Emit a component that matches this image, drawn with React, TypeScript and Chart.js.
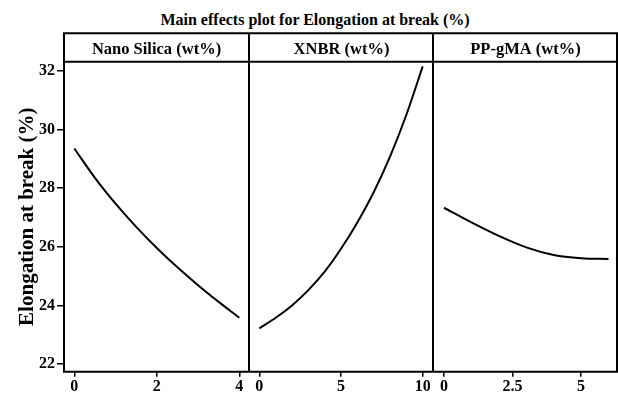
import React, { useEffect, useRef } from "react";
import { Chart, registerables } from "chart.js";

Chart.register(...registerables);

const mainTitle = "Main effects plot for Elongation at break (%)";
const yTitle = "Elongation at break (%)";
const yTicks = [22, 24, 26, 28, 30, 32];

const silicaLabel = "Nano Silica (wt%)";
const silicaX = [0, 0.5, 1, 1.5, 2, 2.5, 3, 3.5, 4];
const silicaY = [29.35, 28.35, 27.47, 26.68, 25.96, 25.3, 24.69, 24.12, 23.58];
const silicaTicks = [0, 2, 4];
const silicaTickLabels = ["0", "2", "4"];

const xnbrLabel = "XNBR (wt%)";
const xnbrX = [0, 1, 2, 3, 4, 5, 6, 7, 8, 9, 10];
const xnbrY = [23.22, 23.58, 24.0, 24.52, 25.15, 25.93, 26.83, 27.86, 29.07, 30.5, 32.15];
const xnbrTicks = [0, 5, 10];
const xnbrTickLabels = ["0", "5", "10"];

const pgmaLabel = "PP-gMA (wt%)";
const pgmaX = [0, 1, 2, 3, 4, 5, 6];
const pgmaY = [27.33, 26.83, 26.37, 25.98, 25.72, 25.61, 25.58];
const pgmaTicks = [0, 2.5, 5];
const pgmaTickLabels = ["0", "2.5", "5"];

const SERIF = "'Liberation Serif', 'Times New Roman', Times, serif";
const HEADER_TOP = 33.3;

type PanelProps = {
  left: number;
  width: number;
  padRight: number;
  drawLeft: boolean;
  showY: boolean;
  label: string;
  xs: number[];
  ys: number[];
  ticks: number[];
  tickLabels: string[];
  xMin: number;
  xMax: number;
};

function makeFrame(drawLeft: boolean) {
  return {
    id: "frame",
    afterDraw(chart: any) {
      const { ctx, chartArea: a } = chart;
      ctx.save();
      ctx.strokeStyle = "#000";
      ctx.lineWidth = 2;
      ctx.beginPath();
      const l = drawLeft ? a.left - 1 : a.left;
      ctx.moveTo(l, HEADER_TOP);
      ctx.lineTo(a.right + 1, HEADER_TOP);
      ctx.moveTo(l, a.top);
      ctx.lineTo(a.right + 1, a.top);
      ctx.moveTo(l, a.bottom);
      ctx.lineTo(a.right + 1, a.bottom);
      if (drawLeft) {
        ctx.moveTo(a.left, HEADER_TOP);
        ctx.lineTo(a.left, a.bottom);
      }
      ctx.moveTo(a.right, HEADER_TOP);
      ctx.lineTo(a.right, a.bottom);
      ctx.stroke();
      ctx.restore();
    },
  };
}

function Panel(p: PanelProps) {
  const ref = useRef<HTMLCanvasElement | null>(null);
  useEffect(() => {
    if (!ref.current) return;
    const tickFont = { family: SERIF, size: 16, weight: "bold" as const };
    const chart = new Chart(ref.current, {
      type: "line",
      data: {
        datasets: [
          {
            data: p.xs.map((x, i) => ({ x, y: p.ys[i] })),
            borderColor: "#000",
            borderWidth: 2,
            pointRadius: 0,
            cubicInterpolationMode: "monotone",
            fill: false,
          },
        ],
      },
      options: {
        animation: false,
        responsive: false,
        maintainAspectRatio: false,
        layout: { padding: { top: HEADER_TOP, left: 0, right: p.padRight, bottom: 0 } },
        plugins: {
          legend: { display: false },
          tooltip: { enabled: false },
          title: {
            display: true,
            text: p.label,
            fullSize: false,
            color: "#000",
            font: { family: SERIF, size: 16.5, weight: "bold", lineHeight: 1.2 },
            padding: { top: 6.5, bottom: 2.1 },
          },
        },
        scales: {
          x: {
            type: "linear",
            min: p.xMin,
            max: p.xMax,
            afterFit: (s: any) => {
              s.height = 22.3;
            },
            afterBuildTicks: (s: any) => {
              s.ticks = p.ticks.map((v) => ({ value: v }));
            },
            ticks: {
              color: "#000",
              font: tickFont,
              padding: 1,
              maxRotation: 0,
              autoSkip: false,
              callback: (_v: any, i: number) => p.tickLabels[i],
            },
            grid: {
              display: true,
              drawOnChartArea: false,
              drawTicks: true,
              tickLength: 5,
              color: "#000",
              lineWidth: 1.5,
            },
            border: { display: false },
          },
          y: {
            display: p.showY,
            min: 21.74,
            max: 32.31,
            afterFit: (s: any) => {
              s.width = p.showY ? 64 : 0;
            },
            afterBuildTicks: (s: any) => {
              s.ticks = yTicks.map((v) => ({ value: v }));
            },
            ticks: {
              color: "#000",
              font: tickFont,
              padding: 2,
              autoSkip: false,
            },
            grid: {
              display: true,
              drawOnChartArea: false,
              drawTicks: true,
              tickLength: 7,
              color: "#000",
              lineWidth: 1.5,
            },
            border: { display: false },
            title: {
              display: true,
              text: yTitle,
              color: "#000",
              font: { family: SERIF, size: 21, weight: "bold", lineHeight: 1.2 },
              padding: { top: 15, bottom: 0 },
            },
          },
        },
      },
      plugins: [makeFrame(p.drawLeft)],
    } as any);
    return () => chart.destroy();
  }, []);
  return (
    <canvas
      ref={ref}
      width={p.width}
      height={394}
      style={{ position: "absolute", left: p.left, top: 0, width: p.width, height: 394 }}
    />
  );
}

export default function App() {
  return (
    <div
      style={{
        position: "absolute",
        left: 0,
        top: 0,
        width: 618,
        height: 394,
        background: "#fff",
        overflow: "hidden",
      }}
    >
      <div
        style={{
          position: "absolute",
          left: 0,
          width: 630,
          top: 10,
          textAlign: "center",
          fontFamily: SERIF,
          fontWeight: "bold",
          fontSize: 16,
          lineHeight: "20px",
          color: "#000",
          whiteSpace: "nowrap",
        }}
      >
        {mainTitle}
      </div>
      <Panel
        left={0}
        width={250}
        padRight={1}
        drawLeft={true}
        showY={true}
        label={silicaLabel}
        xs={silicaX}
        ys={silicaY}
        ticks={silicaTicks}
        tickLabels={silicaTickLabels}
        xMin={-0.25}
        xMax={4.235}
      />
      <Panel
        left={250}
        width={184}
        padRight={1}
        drawLeft={false}
        showY={false}
        label={xnbrLabel}
        xs={xnbrX}
        ys={xnbrY}
        ticks={xnbrTicks}
        tickLabels={xnbrTickLabels}
        xMin={-0.57}
        xMax={10.63}
      />
      <Panel
        left={434}
        width={184}
        padRight={1}
        drawLeft={false}
        showY={false}
        label={pgmaLabel}
        xs={pgmaX}
        ys={pgmaY}
        ticks={pgmaTicks}
        tickLabels={pgmaTickLabels}
        xMin={-0.365}
        xMax={6.31}
      />
    </div>
  );
}
